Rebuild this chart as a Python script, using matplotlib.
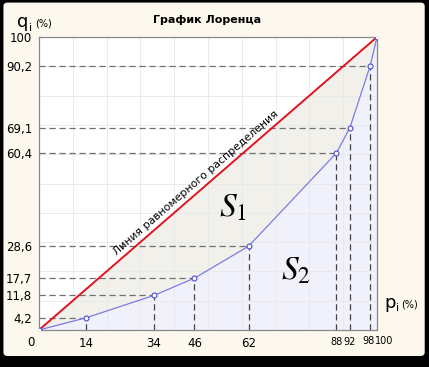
import matplotlib.pyplot as plt
from matplotlib.patches import FancyBboxPatch
import numpy as np

plt.rcParams["font.family"] = ["DejaVu Sans"]
plt.rcParams["mathtext.fontset"] = "stix"

P = [0, 14, 34, 46, 62, 88, 92, 98, 100]
Q = [0, 4.2, 11.8, 17.7, 28.6, 60.4, 69.1, 90.2, 100]
X_TICKS = [0, 14, 34, 46, 62, 88, 92, 98, 100]
Y_TICKS = [4.2, 11.8, 17.7, 28.6, 60.4, 69.1, 90.2, 100]
Y_LABELS = ["4,2", "11,8", "17,7", "28,6", "60,4", "69,1", "90,2", "100"]

fig = plt.figure(figsize=(4.29, 3.67), dpi=100)
fig.patch.set_facecolor("black")
bg = FancyBboxPatch((0.008, 0.03), 0.982, 0.963, boxstyle="round,pad=0,rounding_size=0.01",
                    transform=fig.transFigure, facecolor="#FDF8EE", edgecolor="none", zorder=-10)
fig.patches.append(bg)

ax = fig.add_axes([0.0909, 0.1008, 0.7879, 0.7984])
ax.set_zorder(5)
ax.set_facecolor("white")
ax.set_xlim(0, 100)
ax.set_ylim(0, 100)

ax.fill_between(P, P, Q, color="#F2F0EB", zorder=1, linewidth=0)
ax.fill_between(P, 0, Q, color="#F1F1FC", zorder=1, linewidth=0)

ax.set_xticks(np.arange(0, 101, 10), minor=True)
ax.set_yticks(np.arange(0, 101, 10), minor=True)
ax.grid(which="minor", color="#E8E8E8", linewidth=0.6, zorder=0.5)
ax.tick_params(which="minor", length=0)

for p, q in zip(P[1:-1], Q[1:-1]):
    ax.plot([0, p], [q, q], color="#707070", linestyle=(0, (5, 3)), linewidth=0.9, zorder=2)
    ax.plot([p, p], [0, q], color="#444444", linestyle=(0, (5, 3)), linewidth=0.9, zorder=2)

ax.plot([0, 100], [0, 100], color="#E0141E", linewidth=1.4, zorder=3)
ax.plot(P, Q, color="#7B7BE6", linewidth=0.9, marker="o", markersize=3.5,
        markerfacecolor="white", markeredgecolor="#5A5AD6", markeredgewidth=0.9, zorder=4)

ax.set_xticks(X_TICKS)
xlabels = []
for v in X_TICKS:
    xlabels.append("" if v in (0, 98, 100) else str(v))
ax.set_xticklabels(xlabels, fontsize=8.5)
ax.set_yticks(Y_TICKS)
ax.set_yticklabels(Y_LABELS, fontsize=8.5)
ax.tick_params(which="major", length=0, pad=5)
for lbl in ax.get_xticklabels():
    if lbl.get_text() in ("88", "92"):
        lbl.set_fontsize(7)
for s in ax.spines.values():
    s.set_color("#888888")
    s.set_linestyle((0, (2, 1)))
    s.set_linewidth(0.9)

ax.text(-1.2, -1.9, "0", ha="right", va="top", fontsize=8.5)
ax.text(99.3, -2.2, "98", ha="right", va="top", fontsize=7)
ax.text(99.3, -2.2, "100", ha="left", va="top", fontsize=7)

ax.text(46.3, 50.3, "Линия равномерного распределения", rotation=40.9, rotation_mode="anchor",
        ha="center", va="center", fontsize=7.8, zorder=5)
ax.text(57.5, 42, r"$S_{\mathit{1}}$", fontsize=24, ha="center", va="center", zorder=5)
ax.text(76, 20.5, r"$S_{\mathit{2}}$", fontsize=24, ha="center", va="center", zorder=5)

fig.text(0.483, 0.945, "График Лоренца", ha="center", va="center", fontsize=8, fontweight="bold")
fig.text(0.04, 0.94, "q", ha="left", va="center", fontsize=13)
fig.text(0.067, 0.925, "i", ha="left", va="center", fontsize=8)
fig.text(0.083, 0.935, "(%)", ha="left", va="center", fontsize=7)
fig.text(0.895, 0.175, "p", ha="left", va="center", fontsize=13)
fig.text(0.922, 0.16, "i", ha="left", va="center", fontsize=8)
fig.text(0.935, 0.17, "(%)", ha="left", va="center", fontsize=7)

fig.savefig("out.png", dpi=100, facecolor=fig.get_facecolor())
